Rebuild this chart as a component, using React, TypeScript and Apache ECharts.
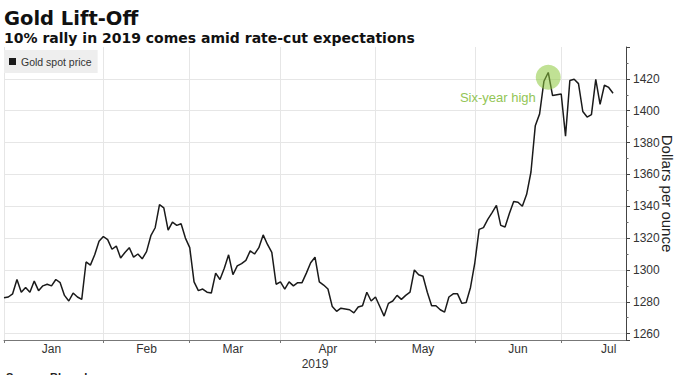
import React, { useEffect, useRef } from 'react';
import * as echarts from 'echarts';

// ---- Texts ----
const TITLE = 'Gold Lift-Off';
const SUBTITLE = '10% rally in 2019 comes amid rate-cut expectations';
const SERIES_NAME = 'Gold spot price';
const Y_NAME = 'Dollars per ounce';
const X_NAME = '2019';
const SOURCE = 'Source: Bloomberg';
const ANNOTATION = 'Six-year high';

// ---- Axis data ----
const FIRST_DAY = '2018-12-31';
const LAST_DAY = '2019-07-19';
const monthEnds = ['2018-12-31', '2019-01-31', '2019-02-28', '2019-03-29', '2019-04-30', '2019-05-31', '2019-06-28'];
const monthLabelDays = ['2019-01-15', '2019-02-14', '2019-03-14', '2019-04-15', '2019-05-15', '2019-06-14', '2019-07-15'];
const monthLabels = ['Jan', 'Feb', 'Mar', 'Apr', 'May', 'Jun', 'Jul'];
const Y_MIN = 1256;
const Y_MAX = 1440;
const Y_STEP = 20;

// ---- Series values (weekday closes, Dec 31 2018 .. Jul 16 2019) ----
const priceJan = [1282.5, 1283, 1285, 1294, 1286, 1289, 1286, 1293, 1287, 1290, 1291, 1290, 1294, 1292, 1284, 1280.5, 1285.5, 1283, 1281.5, 1305, 1303, 1309.5, 1318, 1321];
const priceFeb = [1319, 1313, 1315, 1307.5, 1311, 1314, 1308, 1310, 1307, 1311.5, 1321.5, 1326.5, 1341, 1339, 1325, 1330, 1328, 1329, 1320, 1314];
const priceMar = [1292.5, 1287, 1288, 1286, 1285.5, 1298, 1294, 1301, 1309.5, 1297, 1302.5, 1304, 1306, 1312, 1310, 1314, 1322, 1316, 1311, 1291, 1292.5];
const priceApr = [1288, 1292.5, 1290, 1292, 1292, 1298, 1304.5, 1308, 1292.5, 1290.5, 1288, 1277, 1274, 1276, 1275.5, 1275, 1273, 1276.7, 1277.5, 1286, 1280.5, 1283];
const priceMay = [1277, 1271, 1279, 1280.5, 1284, 1281.5, 1284, 1286, 1300, 1297, 1296, 1286, 1277.5, 1277.5, 1275, 1273.5, 1283, 1285, 1285, 1279, 1279.5, 1289, 1304.5];
const priceJun = [1325.5, 1326.6, 1331.7, 1336, 1340.6, 1328, 1327, 1335.5, 1343, 1342.5, 1340, 1347.5, 1361.5, 1390.6, 1398, 1418.5, 1424, 1409.5, 1410, 1410.5];
const priceJul = [1384, 1419, 1419.7, 1417, 1399.5, 1396, 1397.5, 1419.7, 1404, 1416, 1414.6, 1411];

const PEAK_DAY = '2019-06-25';
const PEAK_CIRCLE_VALUE = 1421;

function weekdays(from: string, to: string): string[] {
  const out: string[] = [];
  const d = new Date(from + 'T00:00:00Z');
  const end = new Date(to + 'T00:00:00Z');
  while (d.getTime() <= end.getTime()) {
    const wd = d.getUTCDay();
    if (wd !== 0 && wd !== 6) out.push(d.toISOString().slice(0, 10));
    d.setUTCDate(d.getUTCDate() + 1);
  }
  return out;
}

const FONT = 'Liberation Sans, Arial, sans-serif';
const TITLE_FONT = 'DejaVu Sans, Verdana, sans-serif';

export default function App() {
  const ref = useRef<HTMLDivElement>(null);

  useEffect(() => {
    if (!ref.current) return;
    const chart = echarts.init(ref.current, undefined, { renderer: 'svg' });
    const days = weekdays(FIRST_DAY, LAST_DAY);
    const prices = [...priceJan, ...priceFeb, ...priceMar, ...priceApr, ...priceMay, ...priceJun, ...priceJul];

    chart.setOption({
      animation: false,
      backgroundColor: '#ffffff',
      grid: { left: 4, right: 54, top: 47, bottom: 35, containLabel: false, outerBoundsMode: 'none' },
      graphic: [
        {
          type: 'text', x: 4, y: 18, silent: true,
          style: { text: TITLE, fontFamily: TITLE_FONT, fontWeight: 'bold', fontSize: 19.5, fill: '#111', align: 'left', verticalAlign: 'middle' },
        },
        {
          type: 'text', x: 4, y: 38, silent: true,
          style: { text: SUBTITLE, fontFamily: TITLE_FONT, fontWeight: 'bold', fontSize: 14, fill: '#111', align: 'left', verticalAlign: 'middle' },
        },
        {
          type: 'text', x: 6, y: 377, silent: true,
          style: { text: SOURCE, fontFamily: FONT, fontWeight: 'bold', fontSize: 11, fill: '#222', align: 'left', verticalAlign: 'middle' },
        },
      ],
      legend: {
        show: true,
        left: 4,
        top: 50,
        padding: [6, 6, 6, 5],
        backgroundColor: '#eeeeee',
        itemWidth: 7,
        itemHeight: 7,
        icon: 'rect',
        selectedMode: false,
        textStyle: { fontFamily: FONT, fontSize: 10.5, color: '#333' },
        data: [SERIES_NAME],
      },
      xAxis: {
        type: 'category',
        data: days,
        boundaryGap: false,
        axisLine: { show: true, lineStyle: { color: '#777', width: 1 } },
        axisTick: {
          show: true,
          interval: (_i: number, v: string) => monthEnds.includes(v),
          length: 3,
          lineStyle: { color: '#777' },
        },
        axisLabel: {
          interval: (_i: number, v: string) => monthLabelDays.includes(v),
          formatter: (v: string) => {
            const k = monthLabelDays.indexOf(v);
            return k >= 0 ? monthLabels[k] : '';
          },
          margin: 3,
          color: '#333',
          fontSize: 12,
          fontFamily: FONT,
        },
        splitLine: {
          show: true,
          interval: (_i: number, v: string) => monthEnds.includes(v),
          lineStyle: { color: '#e6e6e6', width: 1 },
        },
        name: X_NAME,
        nameLocation: 'middle',
        nameGap: 18,
        nameMoveOverlap: false,
        nameTextStyle: { color: '#333', fontSize: 12, fontFamily: FONT },
      },
      yAxis: {
        type: 'value',
        position: 'right',
        min: Y_MIN,
        max: Y_MAX,
        minInterval: Y_STEP,
        maxInterval: Y_STEP,
        axisLine: { show: true, lineStyle: { color: '#444', width: 1 } },
        axisTick: { show: true, length: 4, lineStyle: { color: '#444' } },
        minorTick: { show: true, splitNumber: 2, length: 2.5, lineStyle: { color: '#666' } },
        axisLabel: {
          margin: 7,
          color: '#333',
          fontSize: 12,
          fontFamily: FONT,
          formatter: (v: number) => (v % Y_STEP === 0 && v < Y_MAX ? String(v) : ''),
        },
        splitLine: { show: true, showMaxLine: false, lineStyle: { color: '#e6e6e6', width: 1 } },
        name: Y_NAME,
        nameLocation: 'middle',
        nameRotate: -90,
        nameGap: 34,
        nameMoveOverlap: false,
        nameTextStyle: { color: '#222', fontSize: 15, fontFamily: FONT },
      },
      series: [
        {
          name: SERIES_NAME,
          type: 'line',
          data: prices,
          color: '#1a1a1a',
          showSymbol: false,
          symbol: 'none',
          lineStyle: { color: '#1a1a1a', width: 1.5 },
          markPoint: {
            silent: true,
            data: [
              {
                coord: [PEAK_DAY, PEAK_CIRCLE_VALUE],
                symbol: 'circle',
                symbolSize: 25,
                itemStyle: { color: 'rgba(140, 200, 60, 0.55)' },
                label: {
                  show: true,
                  formatter: ANNOTATION,
                  position: 'left',
                  distance: 0,
                  offset: [0, 20],
                  color: '#93c556',
                  fontSize: 13,
                  fontFamily: FONT,
                },
              },
            ],
          },
        },
      ],
    });

    return () => chart.dispose();
  }, []);

  return (
    <div
      ref={ref}
      style={{ position: 'fixed', left: 0, top: 0, width: 680, height: 375, background: '#fff' }}
    />
  );
}
